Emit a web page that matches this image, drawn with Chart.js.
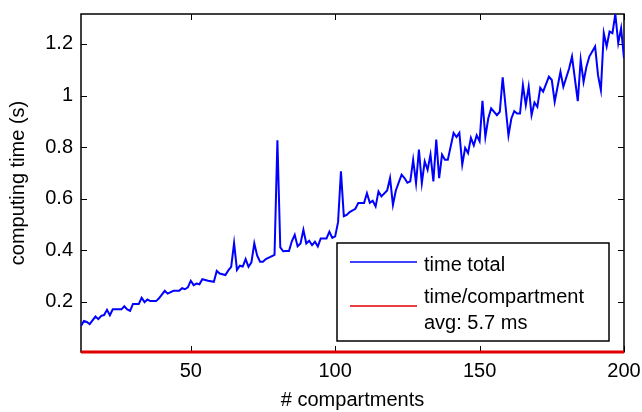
<!DOCTYPE html>
<html>
<head>
<meta charset="utf-8">
<script src="https://cdn.jsdelivr.net/npm/chart.js@4/dist/chart.umd.min.js"></script>
<style>
  html, body { margin: 0; padding: 0; background: #fff; }
  #chart-time { display: block; }
</style>
</head>
<body>
<canvas id="chart-time" width="642" height="412"></canvas>
<script>
// number of compartments per run
var compartments = [12,13,14,15,17,18,19,20,21,22,23,26,27,28,29,30,32,33,34,35,36,38,39,41,42,44,46,47,48,49,
  50,51,52,53,54,56,58,59,60,62,63,64,65,66,67,68,69,70,71,72,73,74,75,76,79,80,81,82,83,84,
  85,86,87,88,89,90,91,92,93,94,95,97,98,99,100,101,102,103,104,105,107,108,110,111,112,113,114,115,116,118,
  119,120,121,123,124,125,126,127,128,129,130,131,132,133,134,135,136,137,138,139,141,142,143,144,145,146,147,148,149,150,
  151,152,153,154,156,157,158,160,161,162,163,164,165,166,167,168,169,170,171,172,174,175,176,178,179,181,182,184,185,186,
  187,188,190,191,192,193,194,195,196,197,198,199,200];

// total computing time (s)
var timeTotal = [0.107,0.126,0.122,0.114,0.143,0.133,0.146,0.149,0.169,0.148,0.171,0.171,0.183,0.171,0.165,0.192,0.192,0.216,0.199,0.209,0.203,0.203,0.214,0.243,0.232,0.243,0.243,0.253,0.249,0.256,
  0.282,0.265,0.271,0.268,0.288,0.282,0.278,0.320,0.310,0.304,0.322,0.336,0.428,0.324,0.340,0.337,0.366,0.336,0.353,0.427,0.379,0.356,0.356,0.366,0.382,0.826,0.411,0.396,0.397,0.397,
  0.435,0.460,0.415,0.426,0.479,0.426,0.437,0.420,0.433,0.415,0.446,0.446,0.472,0.448,0.454,0.509,0.706,0.532,0.537,0.548,0.561,0.583,0.583,0.621,0.584,0.592,0.570,0.628,0.609,0.632,
  0.680,0.576,0.632,0.693,0.680,0.662,0.667,0.751,0.660,0.790,0.660,0.745,0.712,0.771,0.667,0.829,0.680,0.771,0.751,0.751,0.855,0.839,0.855,0.732,0.797,0.777,0.836,0.807,0.846,0.823,
  0.979,0.839,0.911,0.950,0.924,0.937,1.070,0.845,0.911,0.939,0.930,0.930,1.040,0.963,1.034,0.924,0.973,0.956,1.030,1.015,1.073,1.060,0.976,1.092,1.034,1.105,1.151,0.978,1.138,1.053,
  1.112,1.151,1.190,1.079,1.021,1.242,1.190,1.248,1.242,1.316,1.203,1.261,1.144];

// time per compartment (s), avg 5.7 ms
var perCompX = [12, 200];
var perCompY = [0.0057, 0.0057];

var xTicks = [50, 100, 150, 200];
var yTicks = [0.2, 0.4, 0.6, 0.8, 1, 1.2];

var FONT = "'Liberation Sans', Arial, Helvetica, sans-serif";

function toPoints(xs, ys) {
  return xs.map(function (x, i) { return { x: x, y: ys[i] }; });
}

// keep the plot box fixed: no extra room for overhanging tick labels
function noLabelPadding(scale) {
  scale.paddingLeft = 0;
  scale.paddingRight = 0;
  scale.paddingTop = 0;
  scale.paddingBottom = 0;
}

// box around the axes with inward tick marks on all four sides
var axesFrame = {
  id: 'axesFrame',
  beforeDatasetsDraw: function (chart) {
    var a = chart.chartArea, ctx = chart.ctx;
    var xs = chart.scales.x, ys = chart.scales.y;
    var len = 6;
    ctx.save();
    ctx.strokeStyle = '#000';
    ctx.lineWidth = 1.5;
    ctx.strokeRect(a.left, a.top, a.right - a.left, a.bottom - a.top);
    ctx.lineWidth = 1;
    ctx.beginPath();
    xTicks.forEach(function (t) {
      var px = Math.round(xs.getPixelForValue(t)) + 0.5;
      ctx.moveTo(px, a.bottom); ctx.lineTo(px, a.bottom - len);
      ctx.moveTo(px, a.top); ctx.lineTo(px, a.top + len);
    });
    yTicks.forEach(function (t) {
      var py = Math.round(ys.getPixelForValue(t)) + 0.5;
      ctx.moveTo(a.left, py); ctx.lineTo(a.left + len, py);
      ctx.moveTo(a.right, py); ctx.lineTo(a.right - len, py);
    });
    ctx.stroke();
    ctx.restore();
  }
};

// boxed legend in the lower right corner of the axes
var boxLegend = {
  id: 'boxLegend',
  afterDraw: function (chart) {
    var a = chart.chartArea, ctx = chart.ctx;
    var w = 272, h = 98;
    var left = a.right - 15 - w, top = a.bottom - 11 - h;
    ctx.save();
    ctx.fillStyle = '#fff';
    ctx.fillRect(left, top, w, h);
    ctx.strokeStyle = '#000';
    ctx.lineWidth = 1.5;
    ctx.strokeRect(left, top, w, h);

    var rows = [
      { ds: chart.data.datasets[0], lineY: top + 19, textY: [top + 22] },
      { ds: chart.data.datasets[1], lineY: top + 63, textY: [top + 54, top + 80] }
    ];
    ctx.font = '20px ' + FONT;
    ctx.textBaseline = 'middle';
    ctx.textAlign = 'left';
    rows.forEach(function (r) {
      ctx.strokeStyle = r.ds.borderColor;
      ctx.lineWidth = 1.5;
      ctx.beginPath();
      ctx.moveTo(left + 13, r.lineY);
      ctx.lineTo(left + 80, r.lineY);
      ctx.stroke();
      ctx.fillStyle = '#000';
      r.ds.label.split('\n').forEach(function (line, i) {
        ctx.fillText(line, left + 87, r.textY[i]);
      });
    });
    ctx.restore();
  }
};

var ctx = document.getElementById('chart-time').getContext('2d');
new Chart(ctx, {
  type: 'line',
  data: {
    datasets: [
      {
        label: 'time total',
        data: toPoints(compartments, timeTotal),
        borderColor: '#0000ff',
        borderWidth: 2,
        pointRadius: 0,
        tension: 0,
        fill: false
      },
      {
        label: 'time/compartment\navg: 5.7 ms',
        data: toPoints(perCompX, perCompY),
        borderColor: '#e00000',
        borderWidth: 3,
        pointRadius: 0,
        tension: 0,
        fill: false,
        clip: false
      }
    ]
  },
  options: {
    responsive: false,
    animation: false,
    layout: {
      padding: { top: 14, right: 18, left: 0, bottom: 0 }
    },
    plugins: {
      legend: { display: false },
      tooltip: { enabled: false }
    },
    scales: {
      x: {
        type: 'linear',
        min: 12,
        max: 200,
        afterBuildTicks: function (scale) {
          scale.ticks = xTicks.map(function (v) { return { value: v }; });
        },
        afterFit: function (scale) {
          scale.height = 60;
          noLabelPadding(scale);
        },
        grid: { display: false, drawTicks: false },
        border: { display: false },
        ticks: {
          padding: 7,
          color: '#000',
          maxRotation: 0,
          font: { size: 20, family: FONT },
          callback: function (v) { return String(v); }
        },
        title: {
          display: true,
          text: '# compartments',
          color: '#000',
          font: { size: 20, family: FONT },
          padding: { top: 0, bottom: 0 }
        }
      },
      y: {
        type: 'linear',
        min: 0.0057,
        max: 1.316,
        afterBuildTicks: function (scale) {
          scale.ticks = yTicks.map(function (v) { return { value: v }; });
        },
        afterFit: function (scale) {
          scale.width = 81;
          noLabelPadding(scale);
        },
        grid: { display: false, drawTicks: false },
        border: { display: false },
        ticks: {
          padding: 8,
          color: '#000',
          font: { size: 20, family: FONT },
          callback: function (v) { return String(v); }
        },
        title: {
          display: true,
          text: 'computing time (s)',
          color: '#000',
          font: { size: 20, family: FONT },
          padding: { top: 6, bottom: 0 }
        }
      }
    }
  },
  plugins: [axesFrame, boxLegend]
});
</script>
</body>
</html>
